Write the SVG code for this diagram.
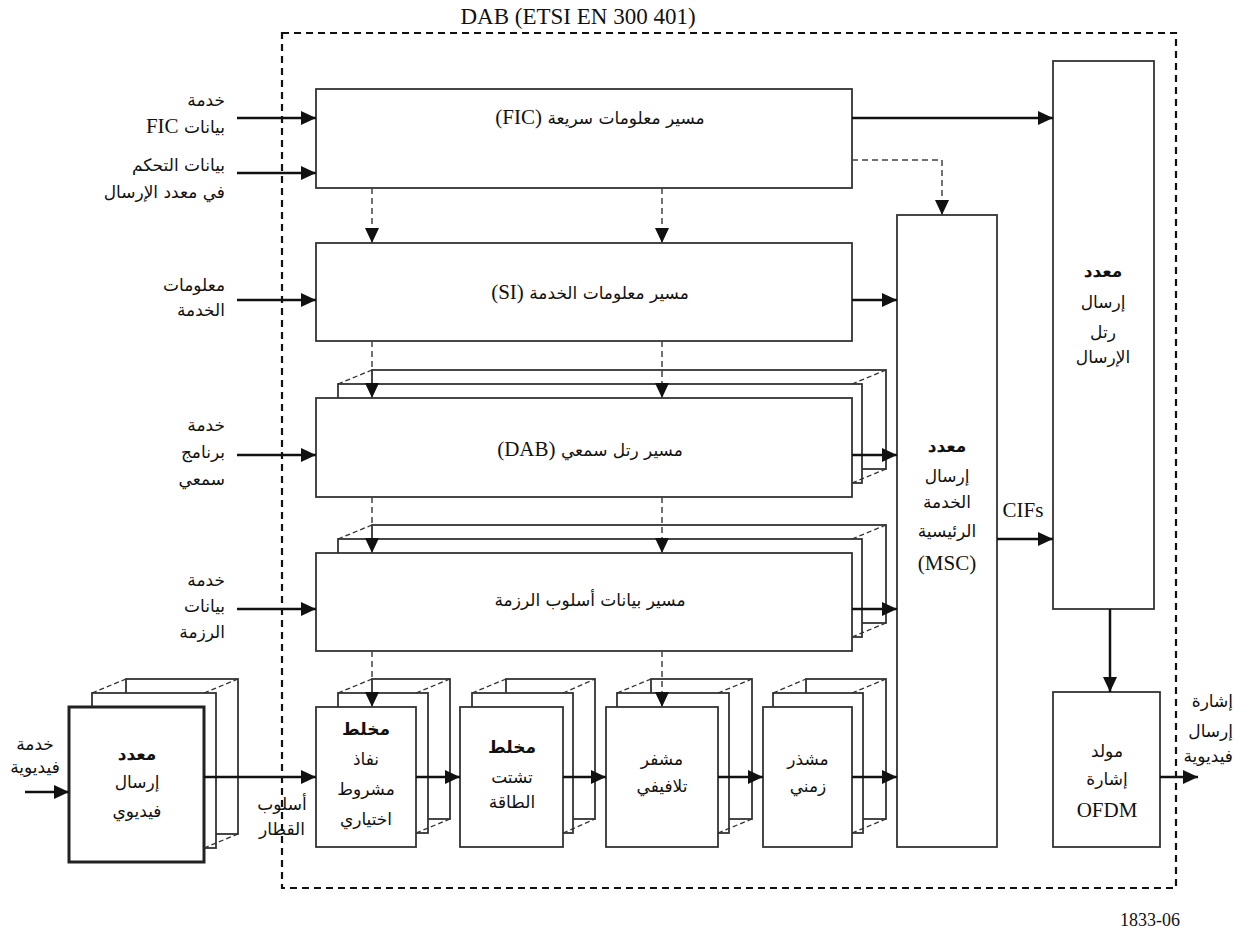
<svg xmlns="http://www.w3.org/2000/svg" width="1241" height="934" viewBox="0 0 1241 934">
<style>
.box{fill:#fff;stroke:#333;stroke-width:1.8}
.thick{fill:#fff;stroke:#222;stroke-width:3}
.diag{stroke:#333;stroke-width:1.3;stroke-dasharray:5 3;fill:none}
.outer{fill:none;stroke:#111;stroke-width:2.2;stroke-dasharray:7 5}
.conn{stroke:#111;stroke-width:2.5;fill:none;marker-end:url(#ah)}
.dconn{stroke:#444;stroke-width:1.5;stroke-dasharray:6 4;fill:none;marker-end:url(#ah)}
.ar{font-family:"DejaVu Sans",sans-serif;font-size:17px;fill:#111;direction:rtl;unicode-bidi:embed}
.c{text-anchor:middle}
.r{text-anchor:start}
.b{font-weight:bold}
.lt{font-family:"Liberation Serif",serif;font-size:21px;fill:#111}
</style>
<defs>
<marker id="ah" markerWidth="15" markerHeight="14" refX="15" refY="7" orient="auto" markerUnits="userSpaceOnUse">
<path d="M0,0 L15,7 L0,14 z" fill="#111"/>
</marker>
</defs>

<rect class="outer" x="282" y="33" width="894" height="855"/>
<text class="lt" x="578" y="24" text-anchor="middle" style="font-size:23px">DAB (ETSI EN 300 401)</text>

<g id="node-fic">
<rect class="box" x="316" y="89" width="536" height="99"/>
<text class="ar c" x="600" y="124">مسير معلومات سريعة <tspan class="lt">(FIC)</tspan></text>
</g>

<g id="node-si">
<rect class="box" x="316" y="243" width="536" height="98"/>
<text class="ar c" x="590" y="299">مسير معلومات الخدمة <tspan class="lt">(SI)</tspan></text>
</g>

<g id="node-dab">
<rect class="box" x="372" y="370" width="514" height="99"/>
<rect class="box" x="338" y="384" width="524" height="99"/>
<rect class="box" x="316" y="398" width="536" height="99"/>
<path class="diag" d="M338,384 L372,370 M852,384 L886,370 M852,483 L886,469"/>
<text class="ar c" x="590" y="456">مسير رتل سمعي <tspan class="lt">(DAB)</tspan></text>
</g>

<g id="node-packet">
<rect class="box" x="372" y="525" width="514" height="98"/>
<rect class="box" x="338" y="539" width="524" height="98"/>
<rect class="box" x="316" y="553" width="536" height="98"/>
<path class="diag" d="M338,539 L372,525 M852,539 L886,525 M852,637 L886,623"/>
<text class="ar c" x="590" y="606">مسير بيانات أسلوب الرزمة</text>
</g>

<g id="node-video">
<rect class="box" x="126" y="679" width="112" height="155"/>
<rect class="box" x="92" y="693" width="124" height="155"/>
<rect class="thick" x="69" y="707" width="135" height="155"/>
<path class="diag" d="M92,693 L126,679 M204,693 L238,679 M204,848 L238,834"/>
<text class="ar c b" x="137" y="760">معدد</text>
<text class="ar c" x="137" y="788">إرسال</text>
<text class="ar c" x="137" y="817">فيديوي</text>
</g>

<g id="node-ca">
<rect class="box" x="372" y="679" width="78" height="140"/>
<rect class="box" x="338" y="693" width="90" height="140"/>
<rect class="box" x="316" y="707" width="100" height="140"/>
<path class="diag" d="M338,693 L372,679 M416,693 L450,679 M416,833 L450,819"/>
<text class="ar c b" x="366" y="735">مخلط</text>
<text class="ar c" x="366" y="765">نفاذ</text>
<text class="ar c" x="366" y="795">مشروط</text>
<text class="ar c" x="366" y="825">اختياري</text>
</g>

<g id="node-energy">
<rect class="box" x="506" y="679" width="89" height="140"/>
<rect class="box" x="472" y="693" width="101" height="140"/>
<rect class="box" x="460" y="707" width="103" height="140"/>
<path class="diag" d="M472,693 L506,679 M563,693 L595,679 M563,833 L595,819"/>
<text class="ar c b" x="512" y="753">مخلط</text>
<text class="ar c" x="512" y="783">تشتت</text>
<text class="ar c" x="512" y="808">الطاقة</text>
</g>

<g id="node-conv">
<rect class="box" x="651" y="679" width="101" height="140"/>
<rect class="box" x="617" y="693" width="112" height="140"/>
<rect class="box" x="606" y="707" width="112" height="140"/>
<path class="diag" d="M617,693 L651,679 M718,693 L752,679 M718,833 L752,819"/>
<text class="ar c" x="662" y="765">مشفر</text>
<text class="ar c" x="662" y="792">تلافيفي</text>
</g>

<g id="node-time">
<rect class="box" x="806" y="679" width="80" height="140"/>
<rect class="box" x="773" y="693" width="90" height="140"/>
<rect class="box" x="763" y="707" width="89" height="140"/>
<path class="diag" d="M773,693 L806,679 M852,693 L886,679 M852,833 L886,819"/>
<text class="ar c" x="808" y="765">مشذر</text>
<text class="ar c" x="808" y="792">زمني</text>
</g>

<g id="node-msc">
<rect class="box" x="897" y="215" width="100" height="632"/>
<text class="ar c b" x="947" y="452">معدد</text>
<text class="ar c" x="947" y="482">إرسال</text>
<text class="ar c" x="947" y="508">الخدمة</text>
<text class="ar c" x="947" y="537">الرئيسية</text>
<text class="lt" x="947" y="570" text-anchor="middle">(MSC)</text>
</g>

<g id="node-frame">
<rect class="box" x="1053" y="61" width="101" height="548"/>
<text class="ar c b" x="1103" y="277">معدد</text>
<text class="ar c" x="1103" y="308">إرسال</text>
<text class="ar c" x="1103" y="338">رتل</text>
<text class="ar c" x="1103" y="363">الإرسال</text>
</g>

<g id="node-ofdm">
<rect class="box" x="1053" y="692" width="107" height="155"/>
<text class="ar c" x="1107" y="757">مولد</text>
<text class="ar c" x="1107" y="785">إشارة</text>
<text class="lt" x="1107" y="817" text-anchor="middle">OFDM</text>
</g>

<g id="labels">
<text class="ar r" x="225" y="106">خدمة</text>
<text class="ar r" x="225" y="133">بيانات <tspan class="lt">FIC</tspan></text>
<text class="ar r" x="225" y="171">بيانات التحكم</text>
<text class="ar r" x="225" y="198">في معدد الإرسال</text>
<text class="ar r" x="225" y="291">معلومات</text>
<text class="ar r" x="225" y="316">الخدمة</text>
<text class="ar r" x="225" y="431">خدمة</text>
<text class="ar r" x="225" y="458">برنامج</text>
<text class="ar r" x="225" y="485">سمعي</text>
<text class="ar r" x="225" y="586">خدمة</text>
<text class="ar r" x="225" y="612">بيانات</text>
<text class="ar r" x="225" y="638">الرزمة</text>
<text class="ar c" x="35" y="750">خدمة</text>
<text class="ar c" x="35" y="773">فيديوية</text>
<text class="ar c" x="282" y="810">أسلوب</text>
<text class="ar c" x="282" y="835">القطار</text>
<text class="lt" x="1023" y="517" text-anchor="middle">CIFs</text>
<text class="ar r" x="1233" y="707">إشارة</text>
<text class="ar r" x="1233" y="737">إرسال</text>
<text class="ar r" x="1233" y="762">فيديوية</text>
<text class="lt" x="1180" y="926" text-anchor="end" style="font-size:18px">1833-06</text>
</g>

<g id="connectors">
<path class="conn" d="M237,118 H316"/>
<path class="conn" d="M237,173 H316"/>
<path class="conn" d="M237,300 H316"/>
<path class="conn" d="M237,455 H316"/>
<path class="conn" d="M237,609 H316"/>
<path class="conn" d="M25,792 H69"/>
<path class="conn" d="M204,777 H316"/>
<path class="conn" d="M416,777 H460"/>
<path class="conn" d="M563,777 H606"/>
<path class="conn" d="M718,777 H763"/>
<path class="conn" d="M852,777 H897"/>
<path class="conn" d="M852,118 H1053"/>
<path class="conn" d="M852,300 H897"/>
<path class="conn" d="M852,455 H897"/>
<path class="conn" d="M852,609 H897"/>
<path class="conn" d="M997,539 H1053"/>
<path class="conn" d="M1110,609 V692"/>
<path class="conn" d="M1160,777 H1198"/>
<path class="dconn" d="M852,160 H942 V215"/>
<path class="dconn" d="M372,188 V243"/>
<path class="dconn" d="M662,188 V243"/>
<path class="dconn" d="M372,341 V398"/>
<path class="dconn" d="M662,341 V398"/>
<path class="dconn" d="M372,497 V553"/>
<path class="dconn" d="M662,497 V553"/>
<path class="dconn" d="M372,651 V707"/>
<path class="dconn" d="M662,651 V707"/>
</g>
</svg>
